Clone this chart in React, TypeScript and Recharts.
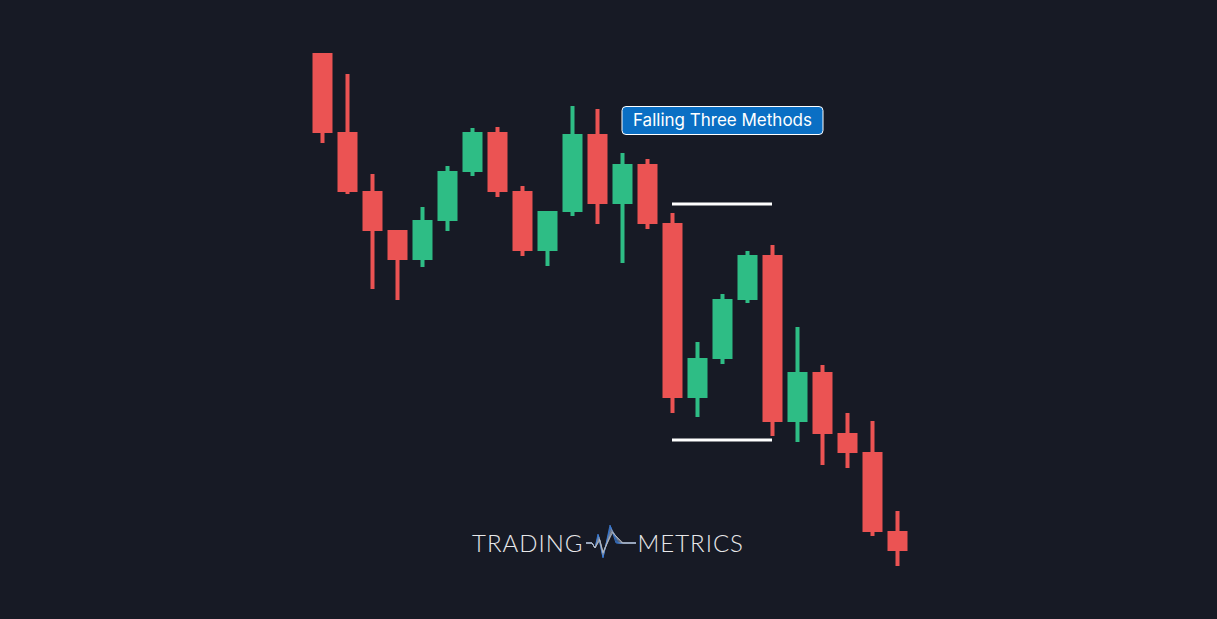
import React from "react";
import { Bar, ComposedChart, ReferenceDot, ReferenceLine, XAxis, YAxis } from "recharts";

const candles = ["1", "2", "3", "4", "5", "6", "7", "8", "9", "10", "11", "12", "13", "14", "15", "16", "17", "18", "19", "20", "21", "22", "23", "24"];
const opens = [56.7, 48.8, 42.9, 39.0, 36.0, 39.9, 44.8, 48.8, 42.9, 36.9, 40.8, 48.6, 41.6, 45.6, 39.7, 22.2, 26.1, 32.0, 36.5, 19.8, 24.8, 18.7, 16.8, 8.9];
const highs = [56.7, 54.6, 44.6, 39.0, 41.3, 45.4, 49.2, 49.3, 43.4, 40.9, 51.4, 51.1, 46.7, 46.1, 40.7, 27.8, 32.6, 36.9, 37.5, 29.3, 25.5, 20.7, 19.9, 10.9];
const lows = [47.7, 42.6, 33.1, 32.0, 35.3, 38.9, 44.4, 42.3, 36.4, 35.4, 40.4, 39.6, 35.7, 39.1, 20.7, 20.3, 25.6, 31.7, 18.4, 17.8, 15.5, 15.2, 8.4, 5.4];
const closes = [48.7, 42.8, 38.9, 36.0, 40.0, 44.9, 48.8, 42.8, 36.9, 40.9, 48.6, 41.6, 45.6, 39.6, 22.2, 26.2, 32.1, 36.5, 19.8, 24.8, 18.6, 16.7, 8.8, 6.9];

// falling three methods box: first and last candle, upper and lower level
const patternStart = "15";
const patternEnd = "19";
const patternTop = 41.6;
const patternBottom = 18.0;
const patternLabel = "Falling Three Methods";

const UP = "#2ebd85";
const DOWN = "#eb5353";
const BG = "#171a25";

const data = candles.map((t, i) => ({
  t,
  open: opens[i],
  high: highs[i],
  low: lows[i],
  close: closes[i],
}));

const Candle = (props: any) => {
  const { x, y, width, height, payload } = props;
  const { open, close, high, low } = payload;
  const top = Math.min(y, y + height);
  const h = Math.abs(height);
  const ppu = h / (high - low);
  const yOf = (v: number) => top + (high - v) * ppu;
  const bodyTop = yOf(Math.max(open, close));
  const bodyBot = yOf(Math.min(open, close));
  const color = close >= open ? UP : DOWN;
  const cx = x + width / 2;
  return (
    <g>
      <rect x={cx - 2} y={top} width={4} height={h} fill={color} />
      <rect x={x} y={bodyTop} width={width} height={Math.max(1, bodyBot - bodyTop)} fill={color} />
    </g>
  );
};

const LabelBox = (props: any) => {
  const { cx, cy } = props;
  if (cx == null || cy == null) return null;
  return (
    <g>
      <rect x={cx - 100} y={cy - 13.5} width={201} height={28} rx={4} fill="#0a6fc4" stroke="#ffffff" strokeWidth={1} />
      <text x={cx + 0.5} y={cy + 1.5} textAnchor="middle" dominantBaseline="middle" fill="#ffffff" fontFamily="Inter, sans-serif" fontSize={17}>
        {patternLabel}
      </text>
    </g>
  );
};

const Logo = () => (
  <svg width={50} height={36} viewBox="0 0 50 36" style={{ margin: "0 1px 0 3px" }}>
    {[0, 1, 2, 3, 4, 5, 6].map((k) => (
      <polyline
        key={k}
        points={`0,19 6,19 9,24 ${12 + k * 0.3},${10 + k} 17,${34 - k} ${24 + k * 0.4},${1 + k * 1.3} ${30 + k * 1.2},19 38,19 50,19`}
        fill="none"
        stroke={k < 3 ? "#3d7fd9" : k < 5 ? "#7f8ea8" : "#b8bcc4"}
        strokeWidth={0.8}
      />
    ))}
  </svg>
);

export default function App() {
  return (
    <div style={{ position: "absolute", left: 0, top: 0, width: 1217, height: 619, background: BG, overflow: "hidden" }}>
      <ComposedChart width={1217} height={619} data={data} margin={{ top: 10, right: 307.5, bottom: 9, left: 309.5 }}>
        <XAxis dataKey="t" hide />
        <YAxis type="number" domain={[1, 61]} hide allowDataOverflow />
        <Bar dataKey={(d: any) => [d.low, d.high]} barSize={20} shape={Candle} isAnimationActive={false} />
        <ReferenceLine
          segment={[{ x: patternStart, y: patternTop }, { x: patternEnd, y: patternTop }]}
          stroke="#ffffff"
          strokeWidth={3}
        />
        <ReferenceLine
          segment={[{ x: patternStart, y: patternBottom }, { x: patternEnd, y: patternBottom }]}
          stroke="#ffffff"
          strokeWidth={3}
        />
        <ReferenceDot x="17" y={50} r={0} shape={LabelBox} />
      </ComposedChart>
      <div
        style={{
          position: "absolute",
          left: 472,
          top: 524,
          display: "flex",
          alignItems: "center",
          color: "#e8e8ea",
          fontFamily: "Lato, sans-serif",
          fontWeight: 300,
          fontSize: 24,
          letterSpacing: 1,
        }}
      >
        <span>TRADING</span>
        <Logo />
        <span>METRICS</span>
      </div>
    </div>
  );
}
